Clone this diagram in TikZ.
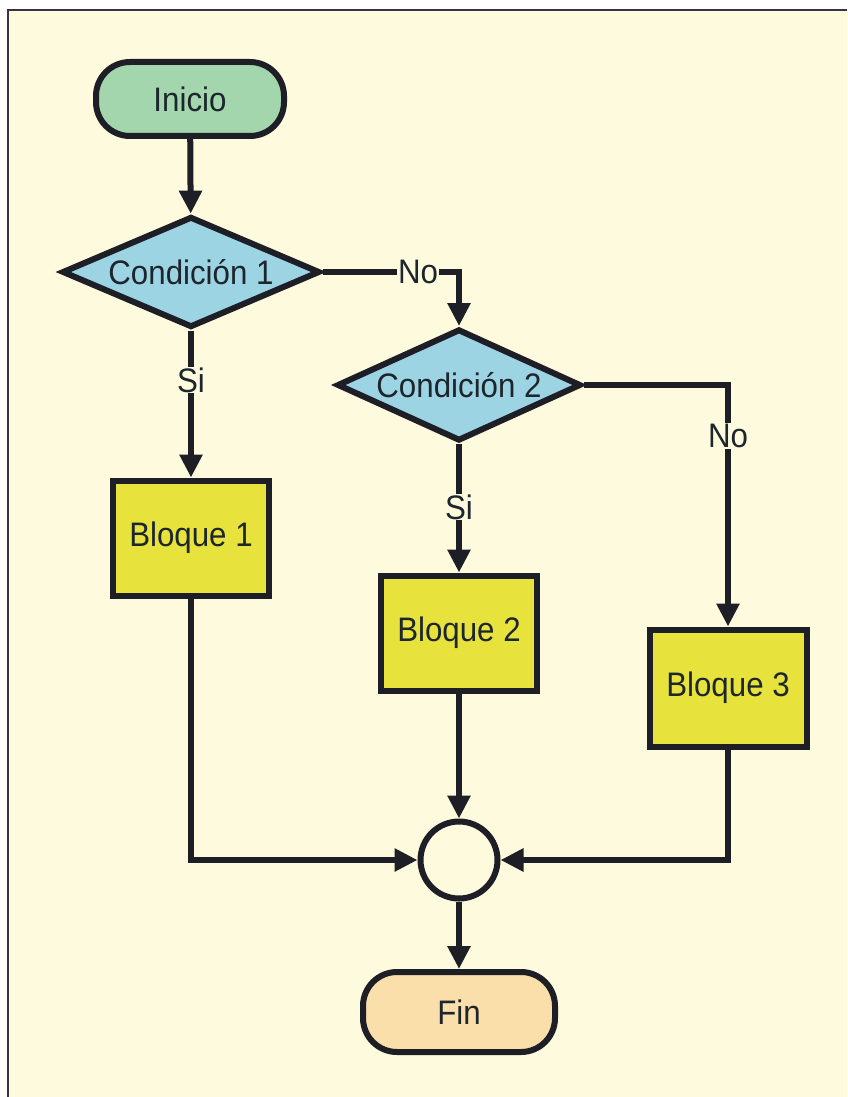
\documentclass[tikz,border=0pt]{standalone}
\usepackage{fontspec}
\setmainfont{Liberation Sans}[FakeStretch=0.92]
\usetikzlibrary{shapes.geometric,arrows.meta}
\definecolor{paper}{HTML}{FDFADD}
\definecolor{framec}{HTML}{3A3242}
\definecolor{ink}{HTML}{1E1E26}
\definecolor{txt}{HTML}{1C262C}
\definecolor{startc}{HTML}{A3D6AC}
\definecolor{condc}{HTML}{9DD4E4}
\definecolor{blockc}{HTML}{E8E33C}
\definecolor{endc}{HTML}{FADFAA}
\tikzset{
  base/.style={draw=ink, line width=6pt, text=txt, inner sep=0pt,
    font=\fontsize{34}{40}\selectfont},
  terminal/.style={base, rectangle, rounded corners=34pt,
    minimum width=188pt, minimum height=74pt},
  decision/.style={base, diamond, shape aspect=2.3, fill=condc},
  process/.style={base, rectangle, fill=blockc,
    minimum width=156pt, minimum height=115pt},
  junction/.style={base, circle, fill=paper, minimum size=77pt},
  flow/.style={draw=ink, line width=6pt,
    -{Triangle[length=23pt,width=22pt]}},
  branch/.style={fill=paper, text=txt, inner sep=1pt,
    font=\fontsize{34}{40}\selectfont}
}
\begin{document}
\begin{tikzpicture}[x=1pt,y=-1pt]
  \useasboundingbox (0,0) rectangle (847,1097);
  % page and frame
  \fill[white] (0,0) rectangle (847,1097);
  \fill[paper] (8,10) rectangle (847,1097);
  \draw[framec, line width=2.6pt] (8,1097) -- (8,10) -- (847,10);

  % nodes
  \node[terminal, fill=startc] (ini) at (190,99) {Inicio};
  \node[decision, minimum width=258pt, minimum height=111pt] (c1) at (191,272) {Condición 1};
  \node[decision, minimum width=244pt, minimum height=112pt] (c2) at (459,385) {Condición 2};
  \node[process] (b1) at (191,538) {Bloque 1};
  \node[process] (b2) at (459,633) {Bloque 2};
  \node[process, minimum width=157pt, minimum height=117pt] (b3) at (728,688) {Bloque 3};
  \node[junction] (j) at (459,860) {};
  \node[terminal, fill=endc, minimum width=192pt, minimum height=80pt] (fin) at (459,1012) {Fin};

  \coordinate (k1) at (459,272);
  \coordinate (k2) at (728,385);
  \coordinate (k3) at (191,860);
  \coordinate (k4) at (728,860);

  % connectors
  \draw[flow] (ini) -- (c1);
  \draw[flow] (c1.east) -- (k1) -- (c2.north);
  \draw[flow] (c1.south) -- (b1.north);
  \draw[flow] (c2.south) -- (b2.north);
  \draw[flow] (c2.east) -- (k2) -- (b3.north);
  \draw[flow] (b1.south) -- (k3) -- (j.west);
  \draw[flow] (b2.south) -- (j.north);
  \draw[flow] (b3.south) -- (k4) -- (j.east);
  \draw[flow] (j.south) -- (fin.north);

  % branch labels
  \node[branch] (n1) at (418,272) {No};
  \node[branch] (s1) at (191,380) {Si};
  \node[branch] (s2) at (459,507) {Si};
  \node[branch] (n2) at (728,436) {No};
\end{tikzpicture}
\end{document}
